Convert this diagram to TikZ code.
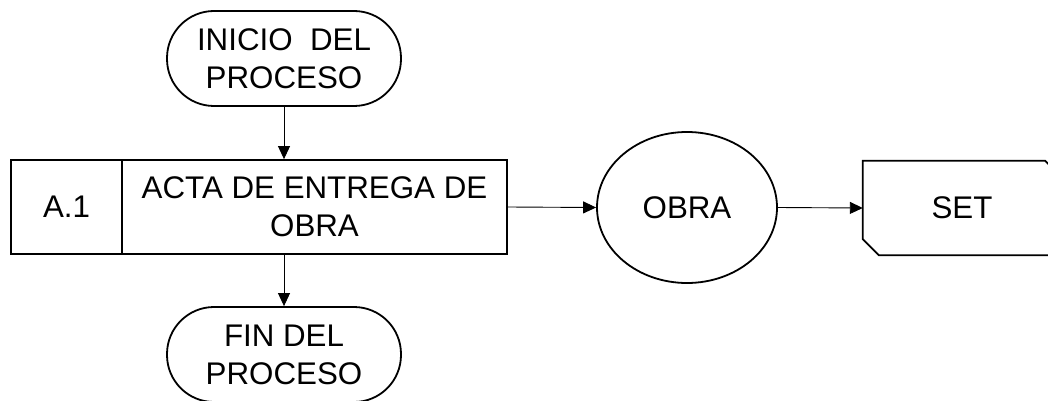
\documentclass[tikz,border=0pt]{standalone}
\usepackage{fontspec}
\setmainfont{Liberation Sans}
\usetikzlibrary{arrows.meta,shapes.geometric,calc}
\begin{document}
\begin{tikzpicture}[x=1pt,y=-1pt,
  lbl/.style={font=\fontsize{31.3}{38}\selectfont, align=center, inner sep=0pt},
  term/.style={lbl, draw, line width=1.8pt, rounded corners=47pt, minimum width=234pt, minimum height=95pt},
  cell/.style={lbl, draw, line width=1.8pt, minimum height=94pt},
  oval/.style={lbl, draw, line width=1.8pt, ellipse, minimum width=180pt, minimum height=151pt},
  conn/.style={line width=0.9pt, -{Triangle[length=13pt,width=12pt]}},
]
\useasboundingbox (0,0) rectangle (1048,401);
\node[term] (inicio) at (284,58.5) {INICIO~ DEL\\PROCESO};
\node[cell, minimum width=111pt] (a1) at (66.5,207) {A.1};
\node[cell, minimum width=385pt] (acta) at (314.5,207) {ACTA DE ENTREGA DE\\OBRA};
\node[term] (fin) at (284,354.5) {FIN DEL\\PROCESO};
\node[oval] (obra) at (687,207.5) {OBRA};
\node[lbl, minimum width=198pt, minimum height=94pt] (set) at (962,208) {SET};
\draw[line width=1.8pt, line join=miter]
  (set.north west) -- ($(set.north east)+(-16,0)$) -- ($(set.north east)+(0,16)$)
  -- (set.south east) -- ($(set.south west)+(16,0)$) -- ($(set.south west)+(0,-16)$) -- cycle;
\draw[conn] (inicio.south) -- (inicio.south |- acta.north);
\draw[conn] (fin.north |- acta.south) -- (fin.north);
\draw[conn] (acta.east) -- (obra.west);
\draw[conn] (obra.east) -- (set.west);
\end{tikzpicture}
\end{document}
